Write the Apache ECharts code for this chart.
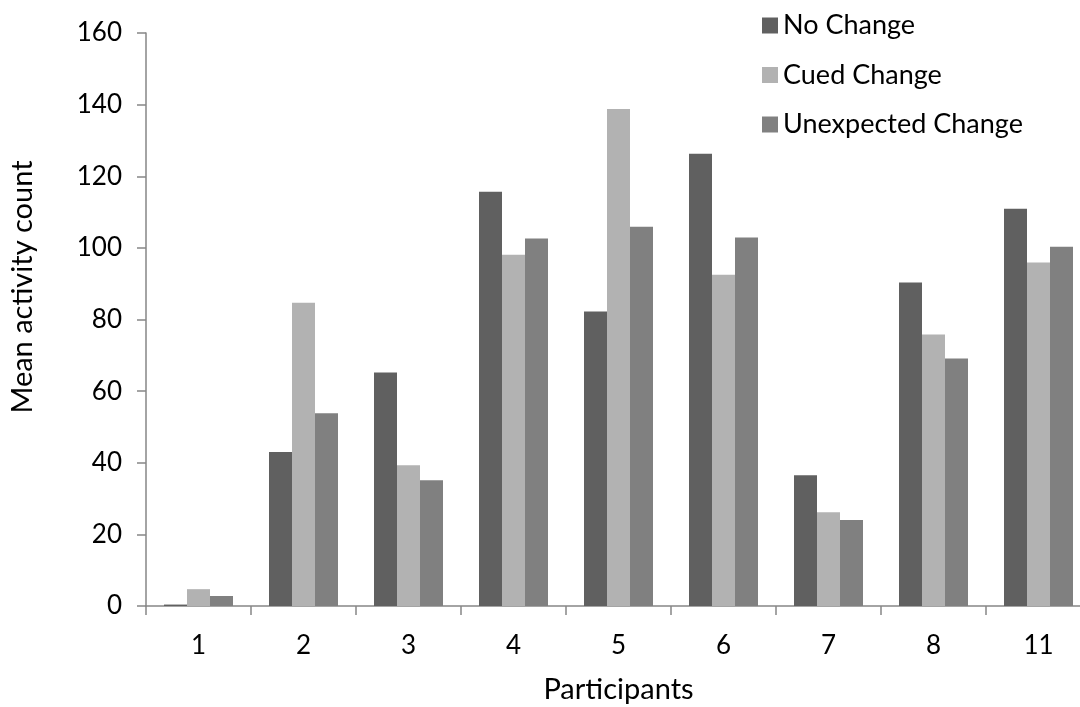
<!DOCTYPE html>
<html>
<head>
<meta charset="utf-8">
<title>Mean activity count by participant</title>
<script src="https://cdn.jsdelivr.net/npm/echarts@6/dist/echarts.min.js"></script>
<style>
  html, body { margin: 0; padding: 0; background: #ffffff; overflow: hidden; }
  #chart { width: 1080px; height: 707px; }
</style>
</head>
<body>
<div id="chart"></div>
<script>
// Participants on the x axis
const participants = ['1', '2', '3', '4', '5', '6', '7', '8', '11'];

// Mean activity count per condition
const noChange = [0.4, 43, 65.2, 115.7, 82.2, 126.3, 36.5, 90.3, 110.9];
const cuedChange = [4.7, 84.7, 39.3, 98.1, 138.8, 92.5, 26.2, 75.8, 95.9];
const unexpectedChange = [2.8, 53.8, 35.1, 102.6, 105.9, 102.9, 24.0, 69.1, 100.3];

const seriesNames = ['No Change', 'Cued Change', 'Unexpected Change'];
const seriesColors = ['#606060', '#b2b2b2', '#808080'];

const FONT = 'Lato';
const axisGrey = '#868686';

const chart = echarts.init(document.getElementById('chart'), null, { renderer: 'canvas' });

function barSeries(name, data, color) {
  return {
    name: name,
    type: 'bar',
    data: data,
    barWidth: 23,
    barGap: '0%',
    itemStyle: { color: color },
    emphasis: { disabled: true }
  };
}

chart.setOption({
  animation: false,
  backgroundColor: '#ffffff',
  textStyle: { fontFamily: FONT, color: '#000000' },
  // the plot runs slightly past the right edge of the canvas
  grid: {
    left: 146, width: 945, top: 33, bottom: 101,
    containLabel: false,
    outerBoundsMode: 'none'
  },
  legend: {
    orient: 'vertical',
    left: 757,
    top: 7,
    itemWidth: 16,
    itemHeight: 16,
    itemGap: 22.5,
    icon: 'rect',
    data: seriesNames,
    textStyle: { fontFamily: FONT, fontSize: 27, color: '#000000' }
  },
  xAxis: {
    type: 'category',
    data: participants,
    name: 'Participants',
    nameLocation: 'middle',
    nameGap: 69,
    nameTextStyle: { fontFamily: FONT, fontSize: 29, color: '#000000' },
    axisLine: { lineStyle: { color: axisGrey, width: 1.5 } },
    axisTick: { show: true, length: 9, inside: false, lineStyle: { color: axisGrey, width: 1.5 } },
    axisLabel: { fontFamily: FONT, fontSize: 26, color: '#000000', margin: 27 },
    splitLine: { show: false }
  },
  yAxis: {
    type: 'value',
    min: 0,
    max: 160,
    interval: 20,
    axisLine: { show: true, lineStyle: { color: axisGrey, width: 1.5 } },
    axisTick: { show: true, length: 9, inside: false, lineStyle: { color: axisGrey, width: 1.5 } },
    axisLabel: { fontFamily: FONT, fontSize: 26, color: '#000000', margin: 24 },
    splitLine: { show: false }
  },
  graphic: [{
    type: 'text',
    x: 23,
    y: 287,
    rotation: Math.PI / 2,
    style: {
      text: 'Mean activity count',
      fontFamily: FONT,
      fontSize: 29,
      fill: '#000000',
      align: 'center',
      verticalAlign: 'middle'
    }
  }],
  series: [
    barSeries(seriesNames[0], noChange, seriesColors[0]),
    barSeries(seriesNames[1], cuedChange, seriesColors[1]),
    barSeries(seriesNames[2], unexpectedChange, seriesColors[2])
  ]
});
</script>
</body>
</html>
